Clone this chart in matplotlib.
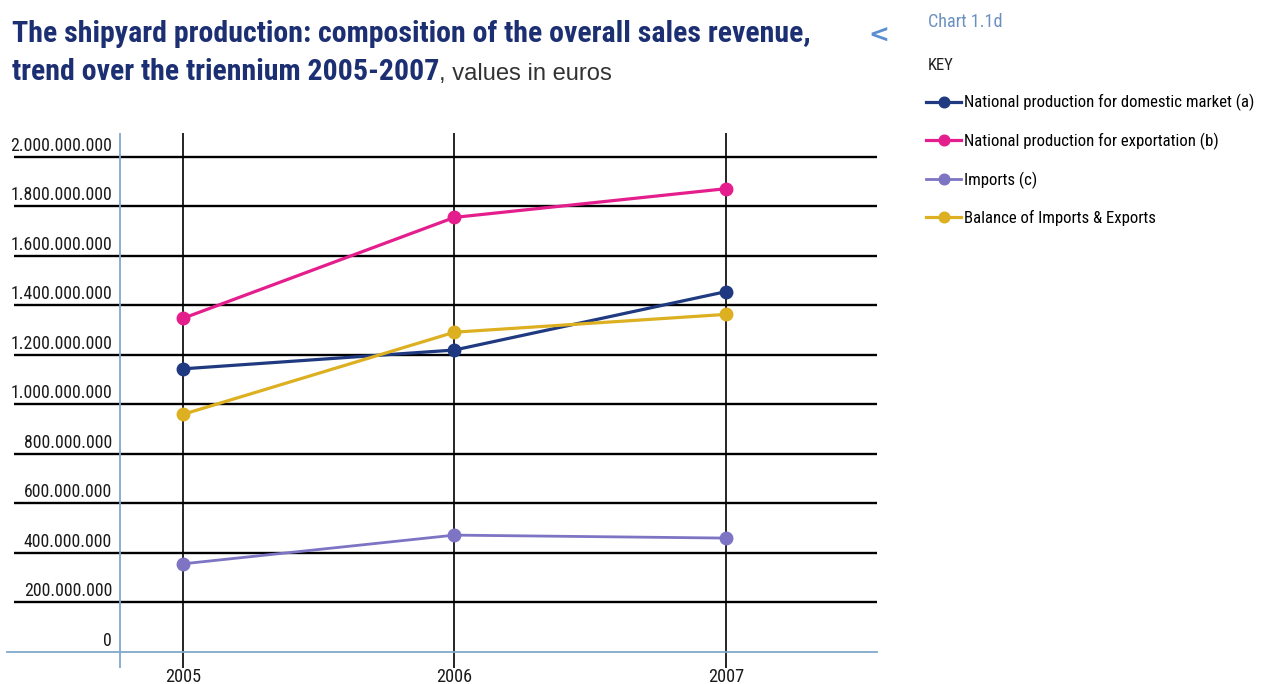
import matplotlib
matplotlib.use("Agg")
import matplotlib.pyplot as plt
from matplotlib import font_manager
from matplotlib.font_manager import FontProperties

# ── données ─────────────────────────────────────────────────
YEARS = [2005, 2006, 2007]
DOMESTIC = [1144e6, 1220e6, 1456e6]
EXPORT = [1348e6, 1756e6, 1872e6]
IMPORTS = [356e6, 472e6, 460e6]
BALANCE = [960e6, 1292e6, 1364e6]

SERIES_LABELS = [
    "National production for domestic market (a)",
    "National production for exportation (b)",
    "Imports (c)",
    "Balance of Imports & Exports",
]
YTICKS = [0, 200e6, 400e6, 600e6, 800e6, 1000e6, 1200e6, 1400e6, 1600e6, 1800e6, 2000e6]

COLORS = ["#1f3a80", "#e41e8c", "#7d74c4", "#ddb021"]
AXIS_BLUE = "#7fa8cc"
TITLE_BLUE = "#1c2f72"


# ── recherche d'une police étroite ──────────────────────────
def _is_bold(f):
    w = f.weight
    if isinstance(w, str):
        return w in ("bold", "heavy", "black", "extra bold", "demibold", "semibold")
    return w >= 600


def _is_narrow(f):
    return (str(f.stretch) in ("condensed", "semi-condensed", "extra-condensed",
                               "ultra-condensed")
            or "Narrow" in f.name or "Condensed" in f.name)


def find_font(bold):
    ttf = font_manager.fontManager.ttflist
    narrow = [f for f in ttf if _is_narrow(f) and _is_bold(f) == bold
              and f.style == "normal"]
    for pref in ["Liberation Sans Narrow", "Roboto Condensed", "Open Sans Condensed",
                 "DejaVu Sans"]:
        for f in narrow:
            if f.name == pref:
                return f.fname
    if narrow:
        return narrow[0].fname
    fam = "Liberation Sans"
    return font_manager.findfont(FontProperties(family=fam,
                                                weight="bold" if bold else "normal"))


NARROW_R = find_font(False)
NARROW_B = find_font(True)
REGULAR = font_manager.findfont(FontProperties(family="Liberation Sans"))

W, H = 1275, 684
fig = plt.figure(figsize=(W / 100, H / 100), dpi=100)
renderer = fig.canvas.get_renderer()


def fx(px):
    return px / W


def fy(py):
    return 1 - py / H


def fit_size(text, fname, target_px, base=20):
    t = fig.text(0, 0, text, fontproperties=FontProperties(fname=fname, size=base))
    w = t.get_window_extent(renderer).width
    t.remove()
    return base * target_px / w


def fp(fname, size):
    return FontProperties(fname=fname, size=size)


ax = fig.add_axes([fx(14), fy(668), fx(877) - fx(14), fy(133) - fy(668)])
ax.set_xlim(2004.378, 2007.556)
ax.set_ylim(-65e6, 2097e6)
for s in ax.spines.values():
    s.set_visible(False)

# grille horizontale noire (sans la ligne zéro)
for v in YTICKS[1:]:
    ax.axhline(v, color="black", lw=1.7, zorder=1)
# lignes verticales des années
for yr in YEARS:
    ax.axvline(yr, color="black", lw=1.2, zorder=1)

# axes bleus
ax.axhline(0, xmin=-0.008, xmax=1.0, color=AXIS_BLUE, lw=1.3, zorder=1, clip_on=False)
ax.axvline(2004.768, ymin=0, ymax=1, color=AXIS_BLUE, lw=1.3, zorder=1)

series = [DOMESTIC, EXPORT, IMPORTS, BALANCE]
handles = []
for vals, col, lab in zip(series, COLORS, SERIES_LABELS):
    lw = 2.0 if col == COLORS[2] else 2.3
    h, = ax.plot(YEARS, vals, color=col, lw=lw, marker="o", markersize=9,
                 markeredgecolor=col, label=lab, zorder=3)
    handles.append(h)

# étiquettes Y posées sur les lignes
ylab_size = fit_size("2.000.000.000", NARROW_R, 102)
ax.set_yticks([])
ytrans = ax.get_yaxis_transform()
for v in YTICKS:
    lab = f"{v:,.0f}".replace(",", ".")
    ax.annotate(lab, xy=(0.1136, v), xycoords=ytrans, xytext=(0, 1.5),
                textcoords="offset points", ha="right", va="bottom",
                fontproperties=fp(NARROW_R, ylab_size), color="#1a1a1a")

xlab_size = fit_size("2005", NARROW_R, 36)
ax.set_xticks(YEARS)
ax.set_xticklabels([str(y) for y in YEARS], fontproperties=fp(NARROW_R, xlab_size),
                   color="#1a1a1a")
ax.tick_params(axis="x", length=0, pad=0)

# titre
line1 = "The shipyard production: composition of the overall sales revenue,"
tsize = fit_size(line1, NARROW_B, 796)
fig.text(fx(12), fy(42), line1, fontproperties=fp(NARROW_B, tsize),
         color=TITLE_BLUE, ha="left", va="baseline")
t2 = fig.text(fx(12), fy(80), "trend over the triennium 2005-2007",
              fontproperties=fp(NARROW_B, tsize), color=TITLE_BLUE,
              ha="left", va="baseline")
bb = t2.get_window_extent(renderer)
vsize = fit_size(", values in euros", REGULAR, 612 - bb.x1)
fig.text(bb.x1 / W, fy(80), ", values in euros", fontproperties=fp(REGULAR, vsize),
         color="#333333", ha="left", va="baseline")

# icône de partage
fig.text(fx(879), fy(36), "<", fontsize=18, fontweight="bold", color="#5b8fd0",
         ha="center", va="center")

# légende
fig.text(fx(928), fy(22), "Chart 1.1d",
         fontproperties=fp(NARROW_R, fit_size("Chart 1.1d", NARROW_R, 74)),
         color="#6b90c0", ha="left", va="center")
fig.text(fx(928), fy(65), "KEY",
         fontproperties=fp(NARROW_R, fit_size("KEY", NARROW_R, 26)),
         color="#222222", ha="left", va="center")
leg_size = fit_size(SERIES_LABELS[0], NARROW_R, 290)
fig.legend(handles=handles, loc="upper left",
           bbox_to_anchor=(fx(926), fy(94)), frameon=False,
           prop=fp(NARROW_R, leg_size), handlelength=2.1,
           handletextpad=0.2, labelspacing=1.28, borderpad=0, borderaxespad=0,
           markerscale=0.85)

fig.savefig("out.png", dpi=100)
